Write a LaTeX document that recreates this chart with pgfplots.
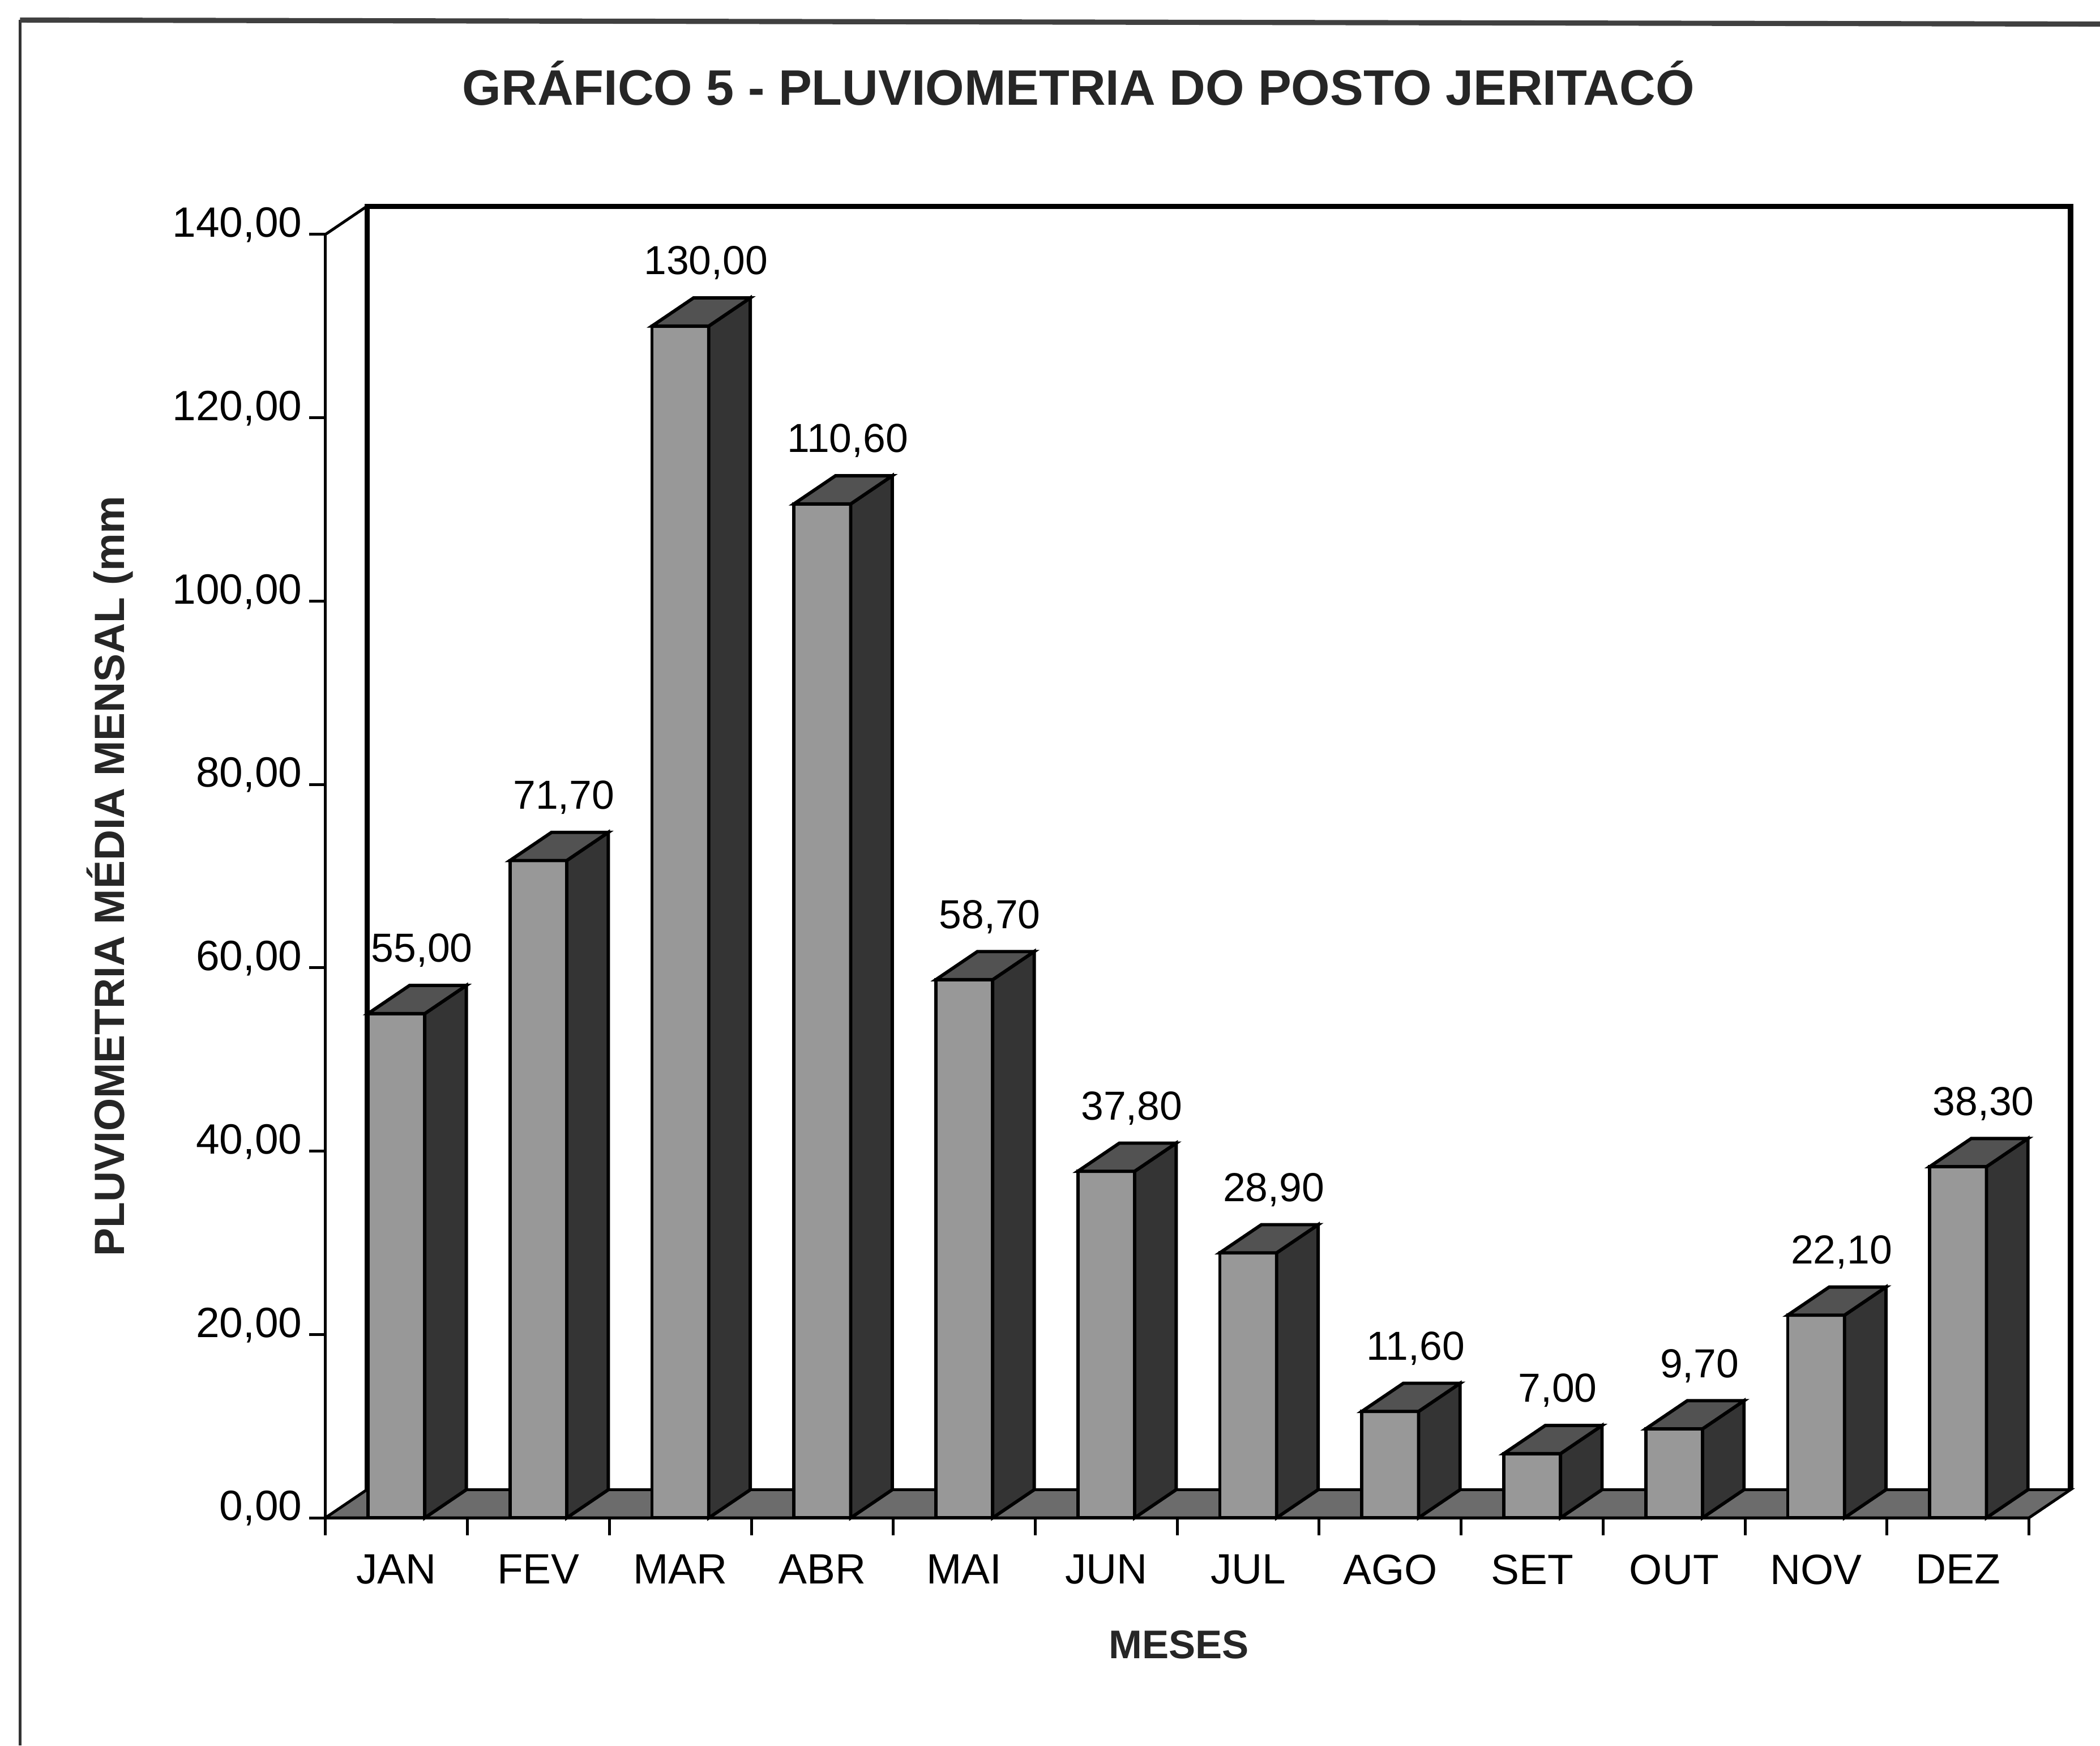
\documentclass[border=0pt]{standalone}
\usepackage{fontspec}
\setmainfont{Liberation Sans}
\usepackage{pgfplots}
\usepackage{pgfplotstable}
\pgfplotsset{compat=1.18}

\definecolor{frontgray}{RGB}{152,152,152}
\definecolor{topgray}{RGB}{82,82,82}
\definecolor{sidegray}{RGB}{52,52,52}
\definecolor{floorgray}{RGB}{108,108,108}

\pgfplotstableread{
x v lab
1 55.0 55,00
2 71.7 71,70
3 130.0 130,00
4 110.6 110,60
5 58.7 58,70
6 37.8 37,80
7 28.9 28,90
8 11.6 11,60
9 7.0 7,00
10 9.7 9,70
11 22.1 22,10
12 38.3 38,30
}\rain

% side and top faces of a 3D bar, drawn at the data point (x, v)
\pgfdeclareplotmark{bartopside}{%
  \pgfsetlinewidth{0.7pt}%
  \pgfsetstrokecolor{black}%
  \pgfpathmoveto{\pgfpoint{0.212cm}{0cm}}%
  \pgfpathlineto{\pgfpoint{0.522cm}{0.21cm}}%
  \pgfpathlineto{\pgfpoint{0.522cm}{0.21cm-\val*0.0684286cm}}%
  \pgfpathlineto{\pgfpoint{0.212cm}{-\val*0.0684286cm}}%
  \pgfpathclose
  \pgfsetfillcolor{sidegray}%
  \pgfusepath{fill,stroke}%
  \pgfpathmoveto{\pgfpoint{-0.212cm}{0cm}}%
  \pgfpathlineto{\pgfpoint{0.098cm}{0.21cm}}%
  \pgfpathlineto{\pgfpoint{0.522cm}{0.21cm}}%
  \pgfpathlineto{\pgfpoint{0.212cm}{0cm}}%
  \pgfpathclose
  \pgfsetfillcolor{topgray}%
  \pgfusepath{fill,stroke}%
}

\begin{document}
\begin{tikzpicture}
\useasboundingbox (0,0) rectangle (15.68cm,13.03cm);
\draw[line width=0.5pt, black!80] (0.15cm,0) -- (0.15cm,12.88cm);
\draw[line width=1.1pt, black!75] (0.15cm,12.88cm) -- (15.68cm,12.85cm);
\begin{axis}[
  at={(2.43cm,1.70cm)}, anchor=south west,
  scale only axis, width=12.72cm, height=9.58cm,
  xmin=0.5, xmax=12.5, ymin=0, ymax=140,
  enlargelimits=false, clip=false,
  axis lines*=left,
  axis line style={line width=0.6pt, -},
  tick align=outside,
  ytick={0,20,40,60,80,100,120,140},
  yticklabels={{0,00},{20,00},{40,00},{60,00},{80,00},{100,00},{120,00},{140,00}},
  major tick length=0.12cm,
  minor tick length=0.13cm,
  xtick={1,2,3,4,5,6,7,8,9,10,11,12},
  xticklabels={JAN,FEV,MAR,ABR,MAI,JUN,JUL,AGO,SET,OUT,NOV,DEZ},
  minor xtick={0.5,1.5,2.5,3.5,4.5,5.5,6.5,7.5,8.5,9.5,10.5,11.5,12.5},
  major x tick style={draw=none},
  every tick/.style={line width=0.6pt, black},
  tick label style={font=\fontsize{9}{10}\selectfont, text=black},
  yticklabel style={xshift=0.07cm, yshift=0.07cm},
  xticklabel style={yshift=-0.03cm},
  title={GRÁFICO 5 - PLUVIOMETRIA DO POSTO JERITACÓ},
  title style={at={(axis description cs:0.442,1.096)}, anchor=center,
    font=\bfseries\fontsize{10.6}{12}\selectfont, text=black!85},
  xlabel={MESES},
  xlabel style={at={(axis description cs:0.501,-0.099)}, anchor=center,
    font=\bfseries\fontsize{8.5}{10}\selectfont, text=black!85},
  ylabel={PLUVIOMETRIA MÉDIA MENSAL (mm},
  ylabel style={at={(axis description cs:-0.1266,0.5)}, anchor=center,
    font=\bfseries\fontsize{9}{10}\selectfont, text=black!85},
]
% back wall
\draw[line width=1.1pt] (axis cs:0.7925,3.069) -- (axis cs:0.7925,143.069)
  -- (axis cs:12.7925,143.069) -- (axis cs:12.7925,3.069);
% left wall edge
\draw[line width=0.6pt] (axis cs:0.5,140) -- (axis cs:0.7925,143.069);
% floor
\filldraw[fill=floorgray, draw=black, line width=0.6pt]
  (axis cs:0.5,0) -- (axis cs:12.5,0) -- (axis cs:12.7925,3.069)
  -- (axis cs:0.7925,3.069) -- cycle;
% side and top faces
\addplot[scatter, only marks, mark=bartopside, point meta=y,
  visualization depends on={\thisrow{v} \as \val},
  scatter/@pre marker code/.code={\pgfscope},
  scatter/@post marker code/.code={\endpgfscope}]
  table[x=x, y=v] {\rain};
% front faces
\addplot[ybar, bar width=0.40, bar shift=0, fill=frontgray, draw=black, line width=0.7pt]
  table[x=x, y=v] {\rain};
% value labels
\addplot[draw=none, mark=none, point meta=explicit symbolic, nodes near coords,
  every node near coord/.append style={anchor=center, xshift=0.19cm, yshift=0.47cm,
    font=\fontsize{8.6}{10}\selectfont, text=black}]
  table[x=x, y=v, meta=lab] {\rain};
\end{axis}
\end{tikzpicture}
\end{document}
